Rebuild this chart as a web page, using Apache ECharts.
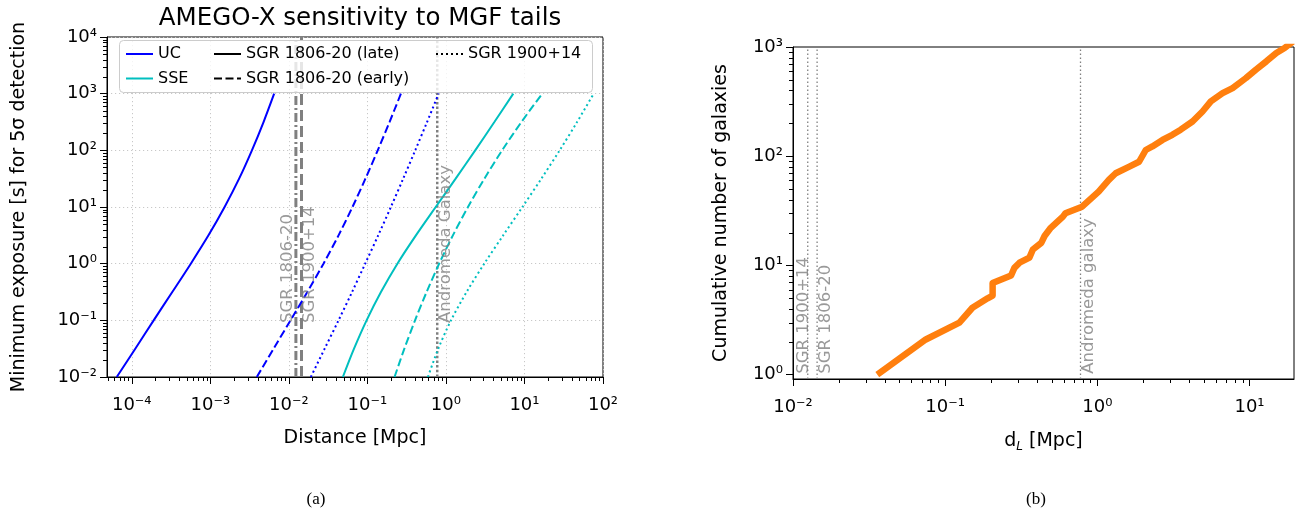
<!DOCTYPE html>
<html>
<head>
<meta charset="utf-8">
<script src="https://cdn.jsdelivr.net/npm/echarts@6.0.0/dist/echarts.min.js"></script>
<style>
  html, body { margin: 0; padding: 0; background: #ffffff; }
  #chart { width: 1307px; height: 519px; }
</style>
</head>
<body>
<div id="chart"></div>
<script>
// ---------- (a) minimum exposure vs distance ----------
// exposure levels [s] shared by every curve
const exposure = [0.01, 0.0316, 0.1, 0.316, 1, 3.16, 10, 31.6, 100, 316, 1000];
// distance [Mpc] reaching each exposure level
const ucLateDist = [6.44e-5, 1.109e-4, 1.901e-4, 3.281e-4, 5.649e-4, 9.484e-4, 1.521e-3, 2.328e-3, 3.388e-3, 4.764e-3, 6.501e-3];
const ucEarlyDist = [3.908e-3, 6.397e-3, 0.0105, 0.01718, 0.02761, 0.04295, 0.06457, 0.09441, 0.1355, 0.1914, 0.2673];
const uc1900Dist = [0.01905, 0.02858, 0.04295, 0.06383, 0.09376, 0.1374, 0.1991, 0.2858, 0.4064, 0.5754, 0.8072];
const sseLateDist = [0.04875, 0.06761, 0.09772, 0.1489, 0.241, 0.415, 0.7413, 1.33, 2.36, 4.14, 7.211];
const sseEarlyDist = [0.2218, 0.2958, 0.4046, 0.5675, 0.8204, 1.227, 1.91, 3.09, 5.2, 9.141, 16.83];
const sse1900Dist = [0.5902, 0.7998, 1.161, 1.832, 3.076, 5.358, 9.419, 16.41, 28.05, 46.77, 76.03];

// ---------- (b) cumulative galaxy count vs luminosity distance ----------
const galaxyDist = [0.0358, 0.0746, 0.124, 0.151, 0.190, 0.205, 0.205, 0.271, 0.285, 0.308, 0.358, 0.377, 0.428,
  0.450, 0.490, 0.594, 0.617, 0.794, 1.02, 1.19, 1.32, 1.61, 1.88, 2.08, 2.30, 2.68, 3.11, 3.53, 4.22, 4.91,
  5.57, 6.65, 7.74, 9.48, 11.0, 12.9, 15.0, 17.0, 19.3];
const galaxyCount = [1, 2.1, 3, 4.1, 5, 5.3, 6.9, 8.1, 9.5, 10.6, 11.8, 14, 16.1, 18.6, 21.8, 28, 30, 34.5, 47.4,
  60.7, 69.8, 80, 89, 114, 123, 141, 157, 175, 208, 257, 318, 378, 421, 520, 620, 739, 881, 980, 1127];

// ---------- reference objects ----------
const leftMarkerDist = [0.0123, 0.0145, 0.775];      // dash-dot, dashed, dotted
const leftLabelText = ['SGR 1806-20', 'SGR 1900+14', 'Andromeda Galaxy'];
const leftLabelY = 0.09;
const rightMarkerDist = [0.0125, 0.0144, 0.775];
const rightLabelText = ['SGR 1900+14', 'SGR 1806-20', 'Andromeda galaxy'];
const rightLabelDist = [0.0103, 0.0145, 0.775];
const rightLabelY = 1.02;

// ---------- axis ranges and ticks ----------
const leftX = [4.84e-5, 100];
const leftY = [0.01, 1e4];
const rightX = [0.01, 19.6];
const rightY = [0.913, 1000];
const leftXMajor = [1e-4, 1e-3, 1e-2, 1e-1, 1, 10, 100];
const leftYMajor = [1e-2, 1e-1, 1, 10, 100, 1000, 1e4];
const rightXMajor = [1e-2, 1e-1, 1, 10];
const rightYMajor = [1, 10, 100, 1000];

const FONT = "'DejaVu Sans', sans-serif";
const BLUE = '#0000ff', CYAN = '#00bfbf', GREY = '#808080', ORANGE = '#ff7f0e';
const DASHED = [8, 3.5], DOTTED = [2, 3];
const CLEAR = 'rgba(0,0,0,0)';

const SUP = { '-': '⁻', '0': '⁰', '1': '¹', '2': '²', '3': '³', '4': '⁴', '5': '⁵', '6': '⁶', '7': '⁷', '8': '⁸', '9': '⁹' };
function pow10Label(v) {
  const l = Math.log10(v), e = Math.round(l);
  if (Math.abs(l - e) > 1e-6) return '';
  return '10' + String(e).split('').map(c => SUP[c]).join('');
}

function minorValues(range) {
  const out = [];
  const lo = Math.floor(Math.log10(range[0])), hi = Math.ceil(Math.log10(range[1]));
  for (let e = lo; e <= hi; e++) {
    for (let m = 2; m <= 9; m++) {
      const v = m * Math.pow(10, e);
      if (v > range[0] * 1.0001 && v < range[1] * 0.9999) out.push(v);
    }
  }
  return out;
}

// short outward ticks at 2..9 x 10^k, placed through the axis scale
function minorTicks(gridIdx, values, dim, anchor) {
  return {
    type: 'custom', xAxisIndex: gridIdx, yAxisIndex: gridIdx, silent: true, clip: false, z: 5,
    data: values.map(v => dim === 'x' ? [v, anchor] : [anchor, v]),
    renderItem: (params, api) => {
      const p = api.coord([api.value(0), api.value(1)]);
      const len = 4;
      if (dim === 'x') {
        const x = Math.round(p[0]) + 0.5;
        return { type: 'line', shape: { x1: x, y1: p[1], x2: x, y2: p[1] + len }, style: { stroke: '#000', lineWidth: 1 } };
      }
      const y = Math.round(p[1]) + 0.5;
      return { type: 'line', shape: { x1: p[0], y1: y, x2: p[0] - len, y2: y }, style: { stroke: '#000', lineWidth: 1 } };
    }
  };
}

function curve(name, dist, color, type) {
  return {
    name, type: 'line', xAxisIndex: 0, yAxisIndex: 0, data: dist.map((d, i) => [d, exposure[i]]),
    smooth: 0.3, symbol: 'none', lineStyle: { color, width: 2, type }, z: 3, silent: true
  };
}

function vline(name, gi, x, range, width, type) {
  return {
    name, type: 'line', xAxisIndex: gi, yAxisIndex: gi, data: [[x, range[0]], [x, range[1]]],
    symbol: 'none', silent: true, z: 2, lineStyle: { color: GREY, width, type }
  };
}

function vlabel(name, gi, x, y, text, side) {
  return {
    name, type: 'scatter', xAxisIndex: gi, yAxisIndex: gi, data: [[x, y]], symbolSize: 0, silent: true, z: 4,
    label: {
      show: true, formatter: text, position: [0, 0], rotate: 90, align: 'left',
      verticalAlign: side === 'right' ? 'top' : 'bottom',
      color: GREY, fontSize: 16.5, fontFamily: FONT
    }
  };
}

// series that exist only to give the legend its line samples
function legendSeries(name, color, type) {
  return {
    name, type: 'line', xAxisIndex: 0, yAxisIndex: 0, data: [], symbol: 'none',
    itemStyle: { color: CLEAR, borderColor: CLEAR, opacity: 0 },
    lineStyle: { color, width: 2, type }
  };
}

function logAxis(gi, range, major, extra) {
  return Object.assign({
    type: 'log', logBase: 10, gridIndex: gi, min: range[0], max: range[1],
    axisLine: { show: true, onZero: false, lineStyle: { color: '#000', width: 1 } },
    axisTick: { show: true, length: 7, inside: false, customValues: major, lineStyle: { color: '#000', width: 1 } },
    minorTick: { show: false },
    nameTextStyle: { color: '#000', fontSize: 19, fontFamily: FONT }
  }, extra);
}

const legendText = { color: '#000', fontSize: 16, fontFamily: FONT };
function legendBlock(data, left) {
  return {
    data, left, top: 46, orient: 'vertical', itemGap: 8.5, itemWidth: 27, itemHeight: 14, padding: 0,
    selectedMode: false, textStyle: legendText, z: 6,
    itemStyle: { color: CLEAR, borderColor: CLEAR, opacity: 0 }
  };
}

const xLabel = major => ({ customValues: major, formatter: pow10Label, color: '#000', fontSize: 18, fontFamily: FONT, margin: 19 });
const yLabel = major => ({ customValues: major, formatter: pow10Label, color: '#000', fontSize: 18, fontFamily: FONT, margin: 10 });

const option = {
  animation: false,
  backgroundColor: '#ffffff',
  title: [
    { text: 'AMEGO-X sensitivity to MGF tails', left: 355, top: 1, textAlign: 'center',
      textStyle: { fontSize: 24.5, fontWeight: 'normal', color: '#000', fontFamily: FONT } },
    { text: '(a)', left: 311, top: 486, textAlign: 'center',
      textStyle: { fontSize: 17, fontWeight: 'normal', color: '#000', fontFamily: "'Liberation Serif', 'DejaVu Serif', serif" } },
    { text: '(b)', left: 1031, top: 486, textAlign: 'center',
      textStyle: { fontSize: 17, fontWeight: 'normal', color: '#000', fontFamily: "'Liberation Serif', 'DejaVu Serif', serif" } }
  ],
  grid: [
    { left: 107, top: 37, width: 496, height: 340, show: true, borderColor: '#000', borderWidth: 1, backgroundColor: 'transparent' },
    { left: 793, top: 47, width: 501, height: 332, show: true, borderColor: '#000', borderWidth: 1, backgroundColor: 'transparent' }
  ],
  xAxis: [
    logAxis(0, leftX, leftXMajor, {
      name: 'Distance [Mpc]', nameLocation: 'middle', nameGap: 52, axisLabel: xLabel(leftXMajor),
      splitLine: { show: true, lineStyle: { color: '#c8c8c8', width: 1, type: [1.2, 2.8] } }
    }),
    logAxis(1, rightX, rightXMajor, {
      name: 'd{sub|L} [Mpc]', nameLocation: 'middle', nameGap: 50, axisLabel: xLabel(rightXMajor),
      nameTextStyle: { color: '#000', fontSize: 19, fontFamily: FONT,
        rich: { sub: { fontSize: 12, fontStyle: 'italic', fontFamily: FONT, color: '#000', padding: [12, 0, 0, 0] } } },
      splitLine: { show: false }
    })
  ],
  yAxis: [
    logAxis(0, leftY, leftYMajor, {
      name: 'Minimum exposure [s] for 5σ detection', nameLocation: 'middle', nameGap: 78, nameRotate: 90,
      axisLabel: yLabel(leftYMajor),
      splitLine: { show: true, lineStyle: { color: '#c8c8c8', width: 1, type: [1.2, 2.8] } }
    }),
    logAxis(1, rightY, rightYMajor, {
      name: 'Cumulative number of galaxies', nameLocation: 'middle', nameGap: 62, nameRotate: 90,
      axisLabel: yLabel(rightYMajor),
      splitLine: { show: false }
    })
  ],
  legend: [
    legendBlock(['UC', 'SSE'], 125),
    legendBlock(['SGR 1806-20 (late)', 'SGR 1806-20 (early)'], 213),
    legendBlock(['SGR 1900+14'], 435)
  ],
  graphic: [
    { type: 'rect', z: 5, shape: { x: 119.5, y: 40.5, width: 473, height: 52, r: 4 },
      style: { fill: 'rgba(255,255,255,0.8)', stroke: '#cccccc', lineWidth: 1 }, silent: true }
  ],
  series: [
    vline('line-a-0', 0, leftMarkerDist[0], leftY, 3, [9, 3, 2, 3]),
    vline('line-a-1', 0, leftMarkerDist[1], leftY, 3, [11, 5]),
    vline('line-a-2', 0, leftMarkerDist[2], leftY, 2.5, [2.5, 2.2]),
    curve('uc-late', ucLateDist, BLUE, 'solid'),
    curve('uc-early', ucEarlyDist, BLUE, DASHED),
    curve('uc-1900', uc1900Dist, BLUE, DOTTED),
    curve('sse-late', sseLateDist, CYAN, 'solid'),
    curve('sse-early', sseEarlyDist, CYAN, DASHED),
    curve('sse-1900', sse1900Dist, CYAN, DOTTED),
    vlabel('text-a-0', 0, leftMarkerDist[0], leftLabelY, leftLabelText[0], 'left'),
    vlabel('text-a-1', 0, leftMarkerDist[1], leftLabelY, leftLabelText[1], 'right'),
    vlabel('text-a-2', 0, leftMarkerDist[2], leftLabelY, leftLabelText[2], 'right'),
    legendSeries('UC', BLUE, 'solid'),
    legendSeries('SSE', CYAN, 'solid'),
    legendSeries('SGR 1806-20 (late)', '#000', 'solid'),
    legendSeries('SGR 1806-20 (early)', '#000', DASHED),
    legendSeries('SGR 1900+14', '#000', DOTTED),
    minorTicks(0, minorValues(leftX), 'x', leftY[0]),
    minorTicks(0, minorValues(leftY), 'y', leftX[0]),

    vline('line-b-0', 1, rightMarkerDist[0], rightY, 1.3, [1.5, 2.5]),
    vline('line-b-1', 1, rightMarkerDist[1], rightY, 1.3, [1.5, 2.5]),
    vline('line-b-2', 1, rightMarkerDist[2], rightY, 1.3, [1.5, 2.5]),
    {
      name: 'galaxies', type: 'line', xAxisIndex: 1, yAxisIndex: 1, symbol: 'none', silent: true, z: 3,
      data: galaxyDist.map((d, i) => [d, galaxyCount[i]]),
      lineStyle: { color: ORANGE, width: 6.5, cap: 'butt', join: 'round' }
    },
    vlabel('text-b-0', 1, rightLabelDist[0], rightLabelY, rightLabelText[0], 'right'),
    vlabel('text-b-1', 1, rightLabelDist[1], rightLabelY, rightLabelText[1], 'right'),
    vlabel('text-b-2', 1, rightLabelDist[2], rightLabelY, rightLabelText[2], 'right'),
    minorTicks(1, minorValues(rightX), 'x', rightY[0]),
    minorTicks(1, minorValues(rightY), 'y', rightX[0])
  ]
};

const chart = echarts.init(document.getElementById('chart'), null, { renderer: 'canvas', width: 1307, height: 519 });
chart.setOption(option);
</script>
</body>
</html>
